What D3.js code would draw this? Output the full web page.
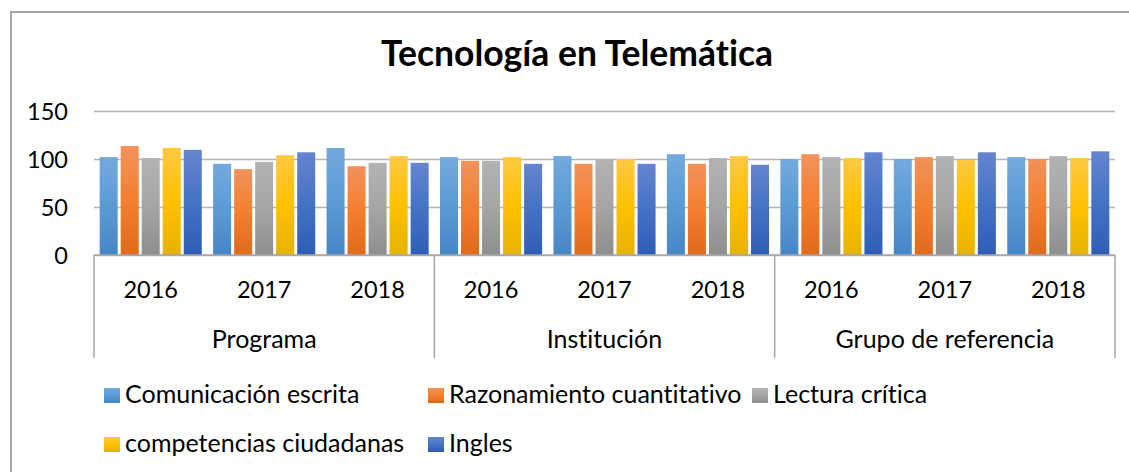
<!DOCTYPE html>
<html>
<head>
<meta charset="utf-8">
<script src="https://cdn.jsdelivr.net/npm/d3@7"></script>
<style>
  html, body { margin: 0; padding: 0; background: #fff; }
  svg { display: block; font-family: Lato, "Open Sans", sans-serif; font-variant-ligatures: none; font-feature-settings: "liga" 0; }
</style>
</head>
<body>
<svg id="chart" width="1129" height="472"></svg>
<script>
// chart data
const groups = ["Programa", "Institución", "Grupo de referencia"];
const years = ["2016", "2017", "2018"];
const seriesNames = ["Comunicación escrita", "Razonamiento cuantitativo", "Lectura crítica", "competencias ciudadanas", "Ingles"];
const yTicks = [0, 50, 100, 150];

// one value per group/year, in order Programa 2016..2018, Institución 2016..2018, Grupo 2016..2018
const comunicacion = [102, 95, 111.5, 102, 103, 105, 100, 100, 102];
const razonamiento = [113.5, 89.5, 92.5, 98, 95, 95, 105, 102, 100];
const lectura = [101, 97, 96, 98, 100, 101, 102, 103, 103];
const ciudadanas = [111.5, 104, 103, 102, 100, 103, 101, 99, 101];
const ingles = [109.5, 107, 96, 95, 95, 94, 107, 107, 108];

const seriesValues = [comunicacion, razonamiento, lectura, ciudadanas, ingles];
// gradient colours for each series: top, middle, bottom
const seriesColors = [
  ["#74a9de", "#5b9bd5", "#4686c6"],
  ["#f2925c", "#f47f2e", "#e06a1a"],
  ["#b3b3b3", "#a5a5a5", "#8e8e8e"],
  ["#ffc942", "#ffc000", "#e6b200"],
  ["#6585cf", "#4472c4", "#2e5db7"]
];

const svg = d3.select('#chart');
const W = 1129;

// outer frame (only left and top edge are visible)
svg.append('path')
  .attr('d', 'M11,472 L11,12 L' + W + ',12')
  .attr('fill', 'none')
  .attr('stroke', '#a6a6a6')
  .attr('stroke-width', 2);

// title
svg.append('text')
  .attr('x', 577)
  .attr('y', 66)
  .attr('text-anchor', 'middle')
  .attr('font-weight', 'bold')
  .attr('font-size', 35.5)
  .attr('fill', '#000')
  .text('Tecnología en Telemática');

const plotLeft = 94, plotRight = 1115, plotTop = 111, plotBottom = 255;

const y = d3.scaleLinear().domain([0, 150]).range([plotBottom, plotTop]);

// category keys: group|year
const cats = [];
groups.forEach(g => years.forEach(yr => cats.push(g + '|' + yr)));

const x0 = d3.scaleBand().domain(cats).range([plotLeft, plotRight]).padding(0);
const gx = d3.scaleBand().domain(groups).range([plotLeft, plotRight]).padding(0);
const catW = x0.bandwidth();
const x1 = d3.scaleBand().domain(d3.range(seriesNames.length))
  .range([catW * 0.05, catW * 0.95]).paddingInner(0.143);

// gradients
const defs = svg.append('defs');
seriesColors.forEach((c, i) => {
  const lg = defs.append('linearGradient')
    .attr('id', 'grad' + i)
    .attr('x1', 0).attr('y1', 0).attr('x2', 0).attr('y2', 1);
  lg.append('stop').attr('offset', '0%').attr('stop-color', c[0]);
  lg.append('stop').attr('offset', '50%').attr('stop-color', c[1]);
  lg.append('stop').attr('offset', '100%').attr('stop-color', c[2]);
});

// gridlines
svg.append('g')
  .attr('transform', `translate(${plotLeft},0)`)
  .call(d3.axisLeft(y).tickValues(yTicks).tickSize(-(plotRight - plotLeft)).tickFormat(''))
  .call(g => g.select('.domain').remove())
  .call(g => g.selectAll('line').attr('stroke', '#b4b4b4').attr('stroke-width', 1.5));

// y labels
svg.append('g')
  .attr('transform', `translate(${plotLeft - 26},0)`)
  .call(d3.axisLeft(y).tickValues(yTicks).tickSize(0).tickPadding(0))
  .call(g => g.select('.domain').remove())
  .call(g => g.selectAll('text')
    .attr('font-family', 'Lato, sans-serif')
    .attr('font-size', 23.5)
    .attr('fill', '#000')
    .attr('dy', '0.36em'));

// bars
const barData = [];
seriesValues.forEach((vals, si) => {
  vals.forEach((v, ci) => barData.push({ s: si, cat: cats[ci], v: v }));
});

svg.append('g')
  .selectAll('rect')
  .data(barData)
  .enter()
  .append('rect')
  .attr('x', d => x0(d.cat) + x1(d.s))
  .attr('y', d => y(d.v))
  .attr('width', x1.bandwidth())
  .attr('height', d => y(0) - y(d.v))
  .attr('fill', d => `url(#grad${d.s})`);

// baseline and group separators
svg.append('line')
  .attr('x1', plotLeft).attr('x2', plotRight)
  .attr('y1', plotBottom).attr('y2', plotBottom)
  .attr('stroke', '#a6a6a6').attr('stroke-width', 1.5);

const sepX = groups.map(g => gx(g)).concat([plotRight]);
svg.append('g')
  .selectAll('line')
  .data(sepX)
  .enter()
  .append('line')
  .attr('x1', d => d).attr('x2', d => d)
  .attr('y1', plotBottom).attr('y2', 358)
  .attr('stroke', '#a6a6a6').attr('stroke-width', 1.5);

// year labels
svg.append('g')
  .selectAll('text')
  .data(cats)
  .enter()
  .append('text')
  .attr('x', d => x0(d) + catW / 2)
  .attr('y', 298)
  .attr('text-anchor', 'middle')
  .attr('font-size', 23.5)
  .attr('fill', '#000')
  .text(d => d.split('|')[1]);

// group labels
svg.append('g')
  .selectAll('text')
  .data(groups)
  .enter()
  .append('text')
  .attr('x', d => gx(d) + gx.bandwidth() / 2)
  .attr('y', 348)
  .attr('text-anchor', 'middle')
  .attr('font-size', 25)
  .attr('fill', '#000')
  .text(d => d);

// legend
const legend = svg.append('g')
  .selectAll('g')
  .data(seriesNames)
  .enter()
  .append('g')
  .attr('transform', (d, i) => `translate(${104 + (i % 3) * 324},${388 + Math.floor(i / 3) * 49})`);

legend.append('rect')
  .attr('width', 16).attr('height', 15)
  .attr('fill', (d, i) => `url(#grad${i})`);

legend.append('text')
  .attr('x', 21)
  .attr('y', 15)
  .attr('font-size', 25)
  .attr('fill', '#000')
  .text(d => d);
</script>
</body>
</html>
